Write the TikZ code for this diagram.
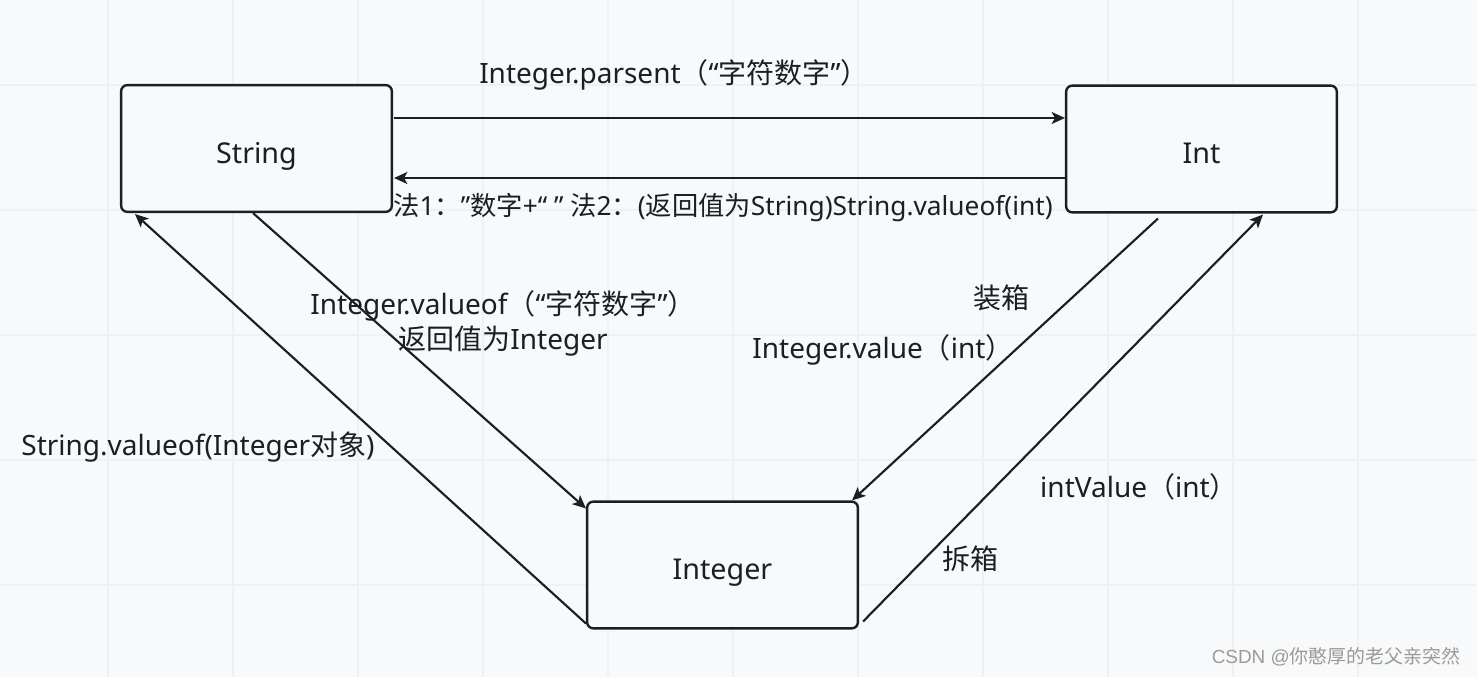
\documentclass[tikz,border=0pt]{standalone}
\usepackage{fontspec}
\setmainfont{Noto Sans}
\newfontfamily\cjk{Noto Sans CJK SC}
\newfontfamily\wmfont{Liberation Sans}
\usetikzlibrary{arrows.meta,calc}
\definecolor{bg}{HTML}{F8F9FA}
\definecolor{gridc}{HTML}{EEF0F2}
\definecolor{ink}{HTML}{1B1E23}
\definecolor{wm}{HTML}{9A9A9A}
\tikzset{
  box/.style={draw=ink,line width=1.8pt,rounded corners=4.5pt,fill=bg,
    minimum width=203pt,minimum height=95pt,inner sep=0pt,text height=22pt,text depth=0pt,
    font=\fontsize{21.5}{26}\selectfont,text=ink},
  lbl/.style={inner sep=0pt,font=\fontsize{21}{25}\selectfont,text=ink},
  arr/.style={draw=ink,line width=1.6pt,-{Stealth[length=10pt,width=9pt,inset=2.5pt]}}
}
\begin{document}
\begin{tikzpicture}[x=0.75pt,y=-0.75pt]
  % canvas and grid
  \fill[bg] (0,0) rectangle (1477,677);
  \useasboundingbox (0,0) rectangle (1477,677);
  \foreach \gx in {108,233,...,1358}
    \draw[gridc,line width=1pt] (\gx,0) -- (\gx,677);
  \foreach \gy in {85,210,...,585}
    \draw[gridc,line width=1pt] (0,\gy) -- (1477,\gy);

  % the three types
  \node[box] (string) at (256.5,148.5) {String};
  \node[box] (int) at (1201.5,149) {Int};
  \node[box] (integer) at (722.5,565) {Integer};

  % conversions
  \draw[arr] ($(string.east)+(1,-30.5)$) -- ($(int.west)+(0,-31)$);
  \draw[arr] ($(int.west)+(0,29)$) -- ($(string.east)+(1,29.5)$);
  \draw[arr] ($(string.south)+(-3.5,0)$) -- ($(integer.north west)+(0,8)$);
  \draw[arr] ($(integer.south west)+(0,-6)$) -- ($(string.south west)+(15,1)$);
  \draw[arr] ($(int.south)+(-43.5,5)$) -- ($(integer.north east)+(-7,0)$);
  \draw[arr] ($(integer.south east)+(4,-8)$) -- ($(int.south)+(61.5,1)$);

  % labels
  \node[lbl] (parse) at (674,75) {Integer.parsent{\cjk （}“{\cjk 字符数字}”{\cjk ）}};
  \node[lbl,font=\fontsize{19.7}{24}\selectfont] (tostr) at (723,208)
    {{\cjk 法}1{\cjk ：}”{\cjk 数字}+“ ” {\cjk 法}2{\cjk ：}({\cjk 返回值为}String)String.valueof(int)};
  \node[lbl] (valof) at (503,306) {Integer.valueof{\cjk （}“{\cjk 字符数字}”{\cjk ）}};
  \node[lbl] (valret) at (503,341) {{\cjk 返回值为}Integer};
  \node[lbl] (strof) at (198,447) {String.valueof(Integer{\cjk 对象})};
  \node[lbl] (boxing) at (1001,298) {\cjk 装箱};
  \node[lbl] (intval) at (883,350) {Integer.value{\cjk （}int{\cjk ）}};
  \node[lbl] (intvalue) at (1139,487) {intValue{\cjk （}int{\cjk ）}};
  \node[lbl] (unboxing) at (970,559) {\cjk 拆箱};
  \node[inner sep=0pt,text=wm,font=\fontsize{14.2}{17}\selectfont] (mark) at (1336,657)
    {{\wmfont CSDN @}{\cjk 你憨厚的老父亲突然}};
\end{tikzpicture}
\end{document}
